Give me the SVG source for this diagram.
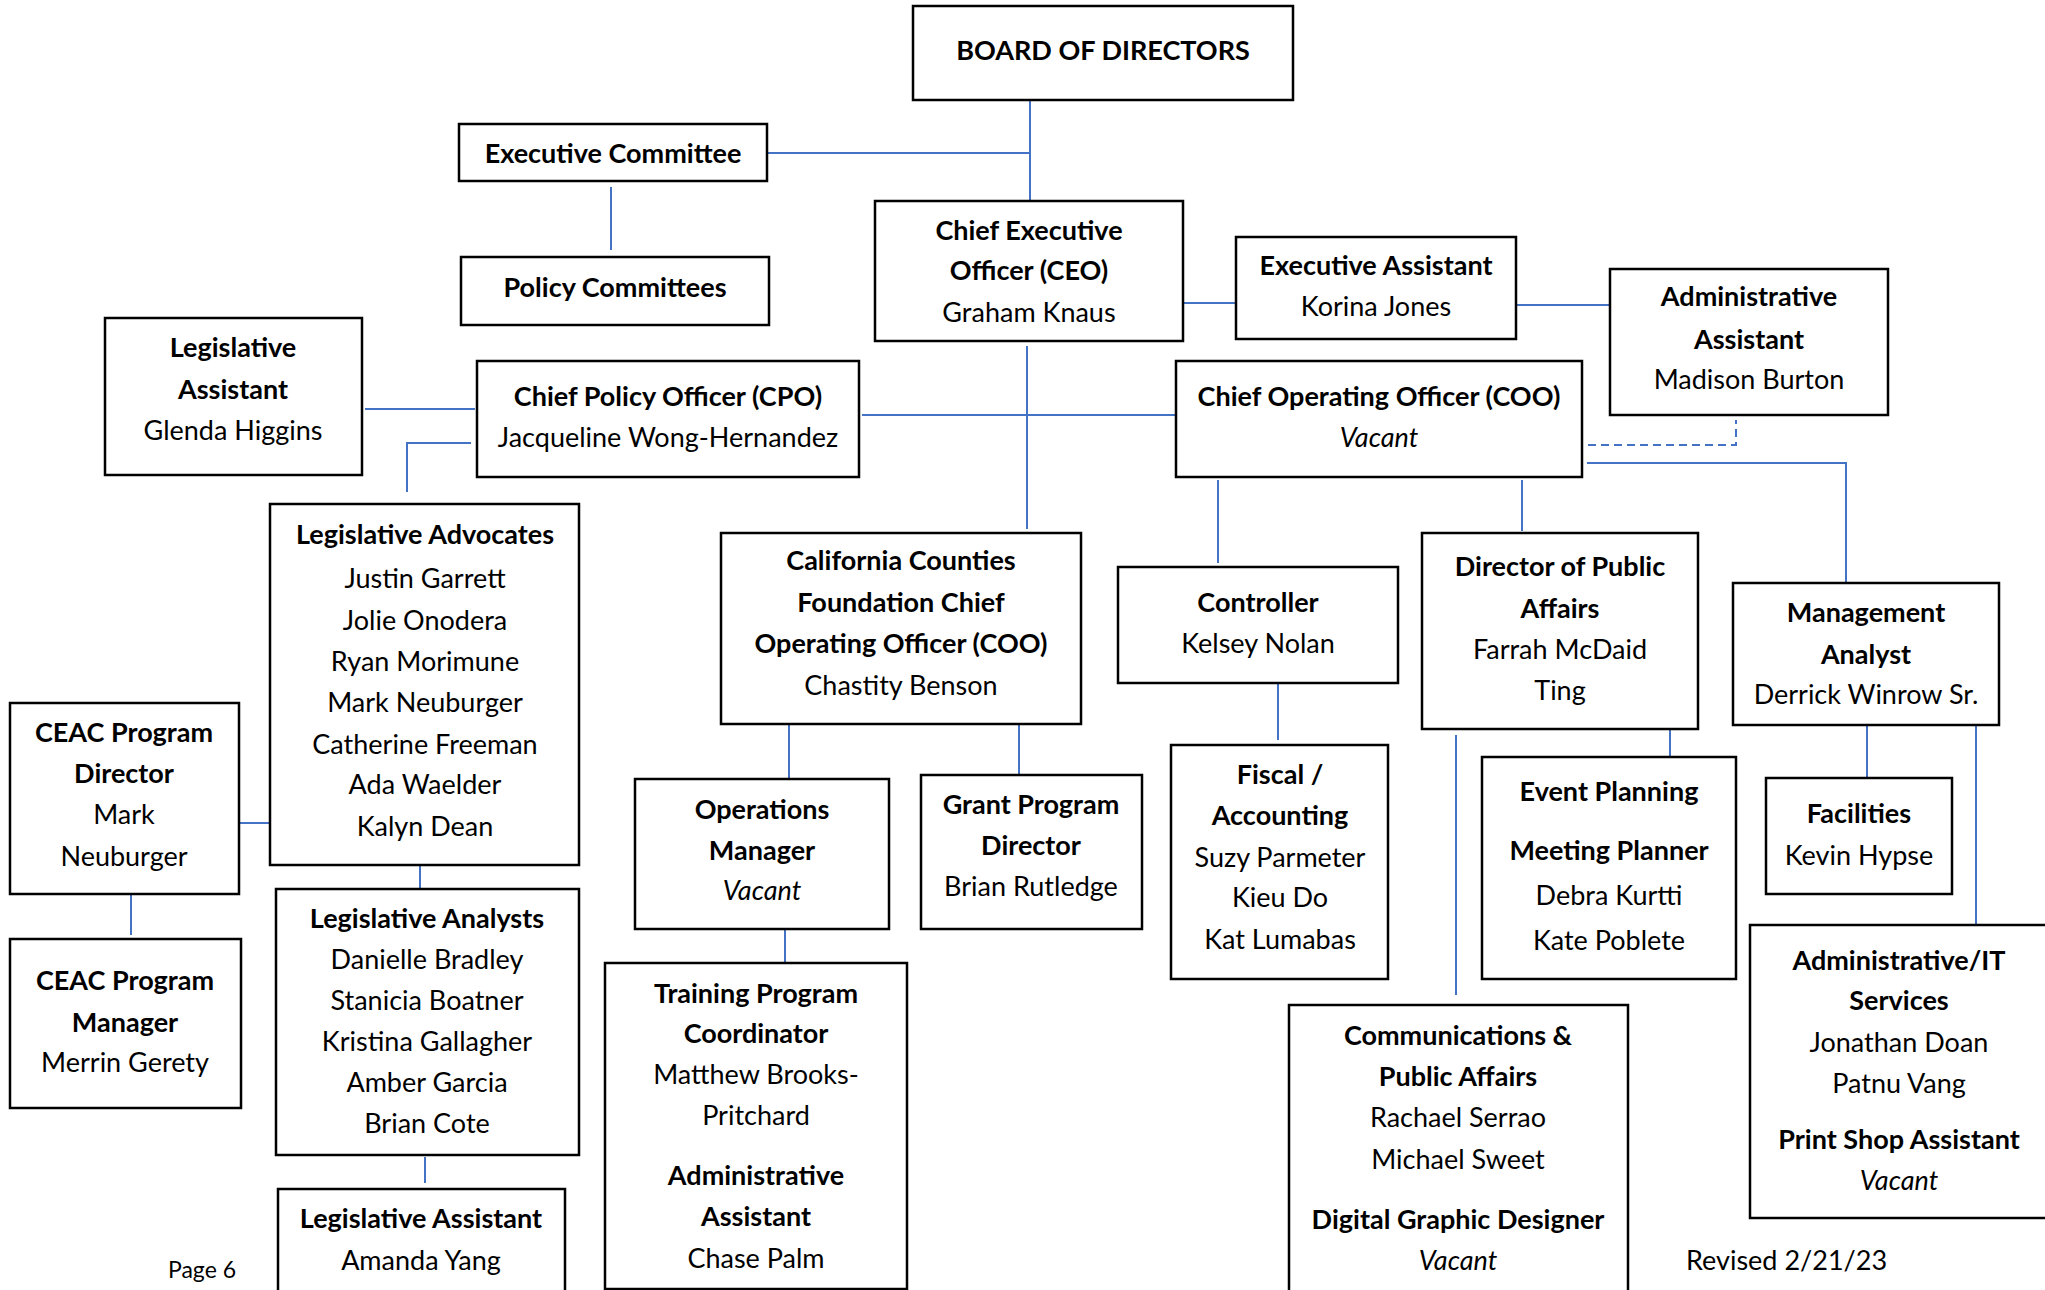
<svg xmlns="http://www.w3.org/2000/svg" width="2045" height="1290" viewBox="0 0 2045 1290">
<style>
.box{fill:#fff;stroke:#000;stroke-width:2.5}
text{font-family:Lato,"Liberation Sans",sans-serif;font-size:27px;fill:#000;text-anchor:middle}
.b{font-weight:bold}
.i{font-style:italic}
.c line,.c polyline{stroke:#4472C4;stroke-width:2;fill:none}
.c .d{stroke-dasharray:8 5}
</style>
<rect width="2045" height="1290" fill="#fff"/>
<g class="c" id="connectors">
<line x1="1030" y1="100" x2="1030" y2="201"/>
<line x1="767" y1="153" x2="1030" y2="153"/>
<line x1="611" y1="187" x2="611" y2="250"/>
<line x1="1183" y1="303" x2="1236" y2="303"/>
<line x1="1516" y1="305" x2="1610" y2="305"/>
<line x1="1027" y1="346" x2="1027" y2="529"/>
<line x1="862" y1="415" x2="1176" y2="415"/>
<line x1="365" y1="409" x2="475" y2="409"/>
<polyline points="471,443 407,443 407,492"/>
<polyline class="d" points="1588,445 1736,445 1736,420"/>
<polyline points="1587,463 1846,463 1846,583"/>
<line x1="1218" y1="480" x2="1218" y2="563"/>
<line x1="1522" y1="480" x2="1522" y2="531"/>
<line x1="239" y1="823" x2="270" y2="823"/>
<line x1="131" y1="894" x2="131" y2="935"/>
<line x1="420" y1="865" x2="420" y2="890"/>
<line x1="425" y1="1157" x2="425" y2="1183"/>
<line x1="789" y1="724" x2="789" y2="779"/>
<line x1="1019" y1="724" x2="1019" y2="775"/>
<line x1="785" y1="929" x2="785" y2="964"/>
<line x1="1278" y1="683" x2="1278" y2="740"/>
<line x1="1456" y1="735" x2="1456" y2="995"/>
<line x1="1670" y1="729" x2="1670" y2="756"/>
<line x1="1867" y1="725" x2="1867" y2="778"/>
<line x1="1976" y1="725" x2="1976" y2="928"/>
</g>
<g id="board"><rect class="box" x="913" y="6" width="380" height="94"/><text class="b" x="1103" y="60">BOARD OF DIRECTORS</text></g>
<g id="exec-committee"><rect class="box" x="459" y="124" width="308" height="57"/><text class="b" x="613" y="163">Executive Committee</text></g>
<g id="policy-committees"><rect class="box" x="461" y="257" width="308" height="68"/><text class="b" x="615" y="297">Policy Committees</text></g>
<g id="ceo"><rect class="box" x="875" y="201" width="308" height="140"/><text class="b" x="1029" y="240">Chief Executive</text><text class="b" x="1029" y="280">Officer (CEO)</text><text x="1029" y="322">Graham Knaus</text></g>
<g id="exec-assistant"><rect class="box" x="1236" y="237" width="280" height="102"/><text class="b" x="1376" y="275">Executive Assistant</text><text x="1376" y="316">Korina Jones</text></g>
<g id="admin-assistant"><rect class="box" x="1610" y="269" width="278" height="146"/><text class="b" x="1749" y="306">Administrative</text><text class="b" x="1749" y="349">Assistant</text><text x="1749" y="389">Madison Burton</text></g>
<g id="leg-assistant-glenda"><rect class="box" x="105" y="318" width="257" height="157"/><text class="b" x="233" y="357">Legislative</text><text class="b" x="233" y="399">Assistant</text><text x="233" y="440">Glenda Higgins</text></g>
<g id="cpo"><rect class="box" x="477" y="361" width="382" height="116"/><text class="b" x="668" y="406">Chief Policy Officer (CPO)</text><text x="668" y="447">Jacqueline Wong-Hernandez</text></g>
<g id="coo"><rect class="box" x="1176" y="361" width="406" height="116"/><text class="b" x="1379" y="406">Chief Operating Officer (COO)</text><text class="i" x="1379" y="447">Vacant</text></g>
<g id="leg-advocates"><rect class="box" x="270" y="504" width="309" height="361"/><text class="b" x="425" y="544">Legislative Advocates</text><text x="425" y="588">Justin Garrett</text><text x="425" y="630">Jolie Onodera</text><text x="425" y="671">Ryan Morimune</text><text x="425" y="712">Mark Neuburger</text><text x="425" y="754">Catherine Freeman</text><text x="425" y="794">Ada Waelder</text><text x="425" y="836">Kalyn Dean</text></g>
<g id="ccf-coo"><rect class="box" x="721" y="533" width="360" height="191"/><text class="b" x="901" y="570">California Counties</text><text class="b" x="901" y="612">Foundation Chief</text><text class="b" x="901" y="653">Operating Officer (COO)</text><text x="901" y="695">Chastity Benson</text></g>
<g id="controller"><rect class="box" x="1118" y="567" width="280" height="116"/><text class="b" x="1258" y="612">Controller</text><text x="1258" y="653">Kelsey Nolan</text></g>
<g id="dir-public-affairs"><rect class="box" x="1422" y="533" width="276" height="196"/><text class="b" x="1560" y="576">Director of Public</text><text class="b" x="1560" y="618">Affairs</text><text x="1560" y="659">Farrah McDaid</text><text x="1560" y="700">Ting</text></g>
<g id="mgmt-analyst"><rect class="box" x="1733" y="583" width="266" height="142"/><text class="b" x="1866" y="622">Management</text><text class="b" x="1866" y="664">Analyst</text><text x="1866" y="704">Derrick Winrow Sr.</text></g>
<g id="ceac-director"><rect class="box" x="10" y="703" width="229" height="191"/><text class="b" x="124" y="742">CEAC Program</text><text class="b" x="124" y="783">Director</text><text x="124" y="824">Mark</text><text x="124" y="866">Neuburger</text></g>
<g id="ceac-manager"><rect class="box" x="10" y="939" width="231" height="169"/><text class="b" x="125" y="990">CEAC Program</text><text class="b" x="125" y="1032">Manager</text><text x="125" y="1072">Merrin Gerety</text></g>
<g id="leg-analysts"><rect class="box" x="276" y="889" width="303" height="266"/><text class="b" x="427" y="928">Legislative Analysts</text><text x="427" y="969">Danielle Bradley</text><text x="427" y="1010">Stanicia Boatner</text><text x="427" y="1051">Kristina Gallagher</text><text x="427" y="1092">Amber Garcia</text><text x="427" y="1133">Brian Cote</text></g>
<g id="leg-assistant-amanda"><rect class="box" x="278" y="1189" width="287" height="120"/><text class="b" x="421" y="1228">Legislative Assistant</text><text x="421" y="1270">Amanda Yang</text></g>
<g id="ops-manager"><rect class="box" x="635" y="779" width="254" height="150"/><text class="b" x="762" y="819">Operations</text><text class="b" x="762" y="860">Manager</text><text class="i" x="762" y="900">Vacant</text></g>
<g id="grant-director"><rect class="box" x="921" y="775" width="221" height="154"/><text class="b" x="1031" y="814">Grant Program</text><text class="b" x="1031" y="855">Director</text><text x="1031" y="896">Brian Rutledge</text></g>
<g id="training"><rect class="box" x="605" y="963" width="302" height="326"/><text class="b" x="756" y="1003">Training Program</text><text class="b" x="756" y="1043">Coordinator</text><text x="756" y="1084">Matthew Brooks-</text><text x="756" y="1125">Pritchard</text><text class="b" x="756" y="1185">Administrative</text><text class="b" x="756" y="1226">Assistant</text><text x="756" y="1268">Chase Palm</text></g>
<g id="fiscal"><rect class="box" x="1171" y="745" width="217" height="234"/><text class="b" x="1280" y="784">Fiscal /</text><text class="b" x="1280" y="825">Accounting</text><text x="1280" y="867">Suzy Parmeter</text><text x="1280" y="907">Kieu Do</text><text x="1280" y="949">Kat Lumabas</text></g>
<g id="event-planning"><rect class="box" x="1482" y="757" width="254" height="222"/><text class="b" x="1609" y="801">Event Planning</text><text class="b" x="1609" y="860">Meeting Planner</text><text x="1609" y="905">Debra Kurtti</text><text x="1609" y="950">Kate Poblete</text></g>
<g id="facilities"><rect class="box" x="1766" y="778" width="186" height="116"/><text class="b" x="1859" y="823">Facilities</text><text x="1859" y="865">Kevin Hypse</text></g>
<g id="admin-it"><rect class="box" x="1750" y="925" width="300" height="293"/><text class="b" x="1899" y="970">Administrative/IT</text><text class="b" x="1899" y="1010">Services</text><text x="1899" y="1052">Jonathan Doan</text><text x="1899" y="1093">Patnu Vang</text><text class="b" x="1899" y="1149">Print Shop Assistant</text><text class="i" x="1899" y="1190">Vacant</text></g>
<g id="communications"><rect class="box" x="1289" y="1005" width="339" height="300"/><text class="b" x="1458" y="1045">Communications &amp;</text><text class="b" x="1458" y="1086">Public Affairs</text><text x="1458" y="1127">Rachael Serrao</text><text x="1458" y="1169">Michael Sweet</text><text class="b" x="1458" y="1229">Digital Graphic Designer</text><text class="i" x="1458" y="1270">Vacant</text></g>
<text x="168" y="1278" style="font-size:23px;text-anchor:start">Page 6</text>
<text x="1686" y="1270" style="text-anchor:start">Revised 2/21/23</text>
</svg>
